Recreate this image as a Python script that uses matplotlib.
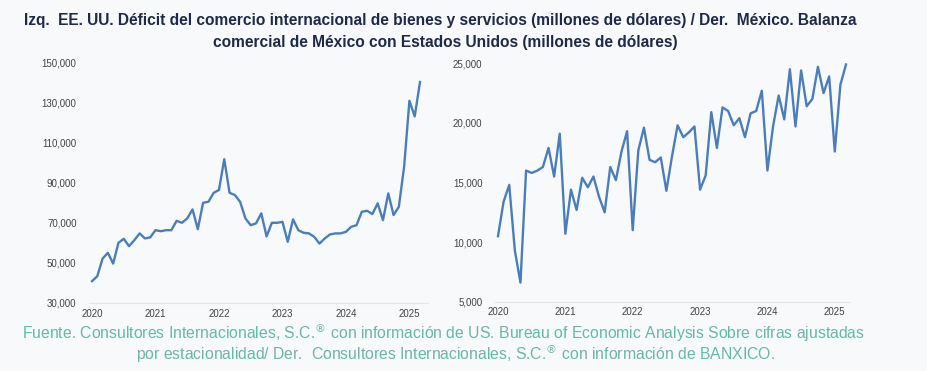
import numpy as np
import matplotlib
matplotlib.use("Agg")
import matplotlib.pyplot as plt
from matplotlib.ticker import FuncFormatter

# EE. UU. deficit comercial (millones de dolares), ene-2020 .. mar-2025
us_deficit = [
    40900, 43400, 52200, 55100, 49700, 60100, 62100, 58400, 61400, 64800, 62300, 62800,
    66400, 65900, 66400, 66400, 71100, 70100, 72300, 76800, 66900, 80100, 80600, 85100,
    86500, 101900, 85100, 84000, 80600, 72300, 68900, 69800, 74800, 63300, 70100, 70100,
    70600, 60600, 71800, 66400, 65100, 64800, 63100, 59700, 62300, 64300, 64800, 64800,
    65600, 68100, 68900, 75600, 76100, 74500, 79800, 71400, 84800, 74000, 78100, 98200,
    131100, 123300, 140500,
]
# Mexico balanza comercial con EE. UU. (millones de dolares), ene-2020 .. mar-2025
mx_balance = [
    10500, 13400, 14800, 9300, 6600, 16000, 15800, 16000, 16300, 17900, 15500, 19100,
    10700, 14400, 12700, 15400, 14600, 15500, 13800, 12500, 16300, 15200, 17600, 19300,
    11000, 17700, 19600, 16900, 16700, 17100, 14300, 17200, 19800, 18800, 19200, 19700,
    14400, 15600, 20900, 17900, 21300, 21000, 19800, 20400, 18800, 20800, 21000, 22700,
    16000, 19700, 22300, 20300, 24500, 19700, 24400, 21400, 22000, 24700, 22500, 23900,
    17600, 23200, 24900,
]
years = ["2020", "2021", "2022", "2023", "2024", "2025"]
left_ticks = [30000, 50000, 70000, 90000, 110000, 130000, 150000]
right_ticks = [5000, 10000, 15000, 20000, 25000]

title1 = "Izq.  EE. UU. Déficit del comercio internacional de bienes y servicios (millones de dólares) / Der.  México. Balanza"
title2 = "comercial de México con Estados Unidos (millones de dólares)"
source1 = "Fuente. Consultores Internacionales, S.C.$^{®}$ con información de US. Bureau of Economic Analysis Sobre cifras ajustadas"
source2 = "por estacionalidad/ Der.  Consultores Internacionales, S.C.$^{®}$ con información de BANXICO."

bg = "#f8f9fb"
line_col = "#4a7ebb"
font = ["Liberation Sans", "DejaVu Sans"]

fig = plt.figure(figsize=(9.27, 3.71), dpi=100, facecolor=bg)
W, H = 927, 371


def add_ax(x0, x1, y0, y1):
    return fig.add_axes([x0 / W, 1 - y1 / H, (x1 - x0) / W, (y1 - y0) / H])


def style(ax, data, ticks, x0px, x1px, xdata_px):
    x = np.arange(len(data))
    ax.set_facecolor(bg)
    ax.plot(x, data, color=line_col, lw=1.7, solid_joinstyle="round")
    # month index mapped onto the pixel span of the reference
    per = (xdata_px[1] - xdata_px[0]) / (len(data) - 1)
    ax.set_xlim(-(xdata_px[0] - x0px) / per, len(data) - 1 + (x1px - xdata_px[1]) / per)
    ax.set_ylim(ticks[0], ticks[-1])
    ax.set_yticks(ticks)
    ax.yaxis.set_major_formatter(FuncFormatter(lambda v, p: f"{int(v):,}"))
    ax.set_xticks([12 * i for i in range(len(years))])
    ax.set_xticklabels(years)
    for s in ["top", "right", "left"]:
        ax.spines[s].set_visible(False)
    ax.spines["bottom"].set_color("#e3e5e8")
    ax.tick_params(length=0, labelsize=7, colors="#444444", pad=4)
    ax.tick_params(axis="y", pad=9)
    for lab in ax.get_xticklabels() + ax.get_yticklabels():
        lab.set_family(font)


ax1 = add_ax(89, 428, 63, 303)
style(ax1, us_deficit, left_ticks, 89, 428, (92, 420))

ax2 = add_ax(495, 849, 63.3, 301.7)
style(ax2, mx_balance, right_ticks, 495, 849, (498, 846))

tkw = dict(ha="center", va="center", fontsize=11.2, fontweight="bold",
           color="#1e2a4a", family=font)
fig.text(440 / W, 1 - 21 / H, title1, **tkw)
fig.text(445 / W, 1 - 42 / H, title2, **tkw)

skw = dict(ha="center", va="center", fontsize=11.3, color="#66b8a8", family=font)
fig.text(443 / W, 1 - 333 / H, source1, **skw)
fig.text(455 / W, 1 - 354 / H, source2, **skw)

fig.savefig("out.png", dpi=100, facecolor=bg)
